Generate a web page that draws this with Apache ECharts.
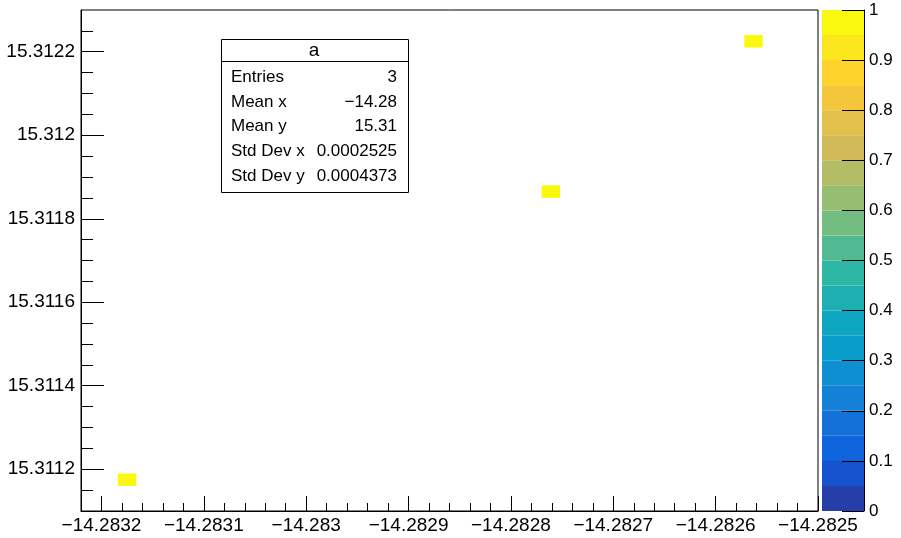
<!DOCTYPE html>
<html><head><meta charset="utf-8">
<script src="https://cdn.jsdelivr.net/npm/echarts@6/dist/echarts.min.js"></script>
<style>html,body{margin:0;padding:0;background:#fff}#c{width:901px;height:538px}</style>
</head><body><div id="c"></div>
<script>
// ---- data ----
const histName = 'a';
const xRange = [-14.28322, -14.2825];
const yRange = [15.3111, 15.3123];
const nBinsX = 40;
const nBinsY = 40;
// lower edges of filled bins and their contents
const binX = [-14.283184, -14.28277, -14.282572];
const binY = [15.31116, 15.31185, 15.31221];
const binContent = [1, 1, 1];
const xMajorTicks = [-14.2832, -14.2831, -14.283, -14.2829, -14.2828, -14.2827, -14.2826, -14.2825];
const yMajorTicks = [15.3112, 15.3114, 15.3116, 15.3118, 15.312, 15.3122];
const zRange = [0, 1];
const zTicks = [0, 0.1, 0.2, 0.3, 0.4, 0.5, 0.6, 0.7, 0.8, 0.9, 1];
const zLevels = [0, 0.05, 0.1, 0.15, 0.2, 0.25, 0.3, 0.35, 0.4, 0.45, 0.5, 0.55, 0.6, 0.65, 0.7, 0.75, 0.8, 0.85, 0.9, 0.95, 1];
const statsLabels = ['Entries', 'Mean x', 'Mean y', 'Std Dev x', 'Std Dev y'];
const statsValues = ['3', '\u221214.28', '15.31', '0.0002525', '0.0004373'];

// ---- style helpers ----
const FONT = '"Liberation Sans", Arial, Helvetica, sans-serif';
// ROOT kBird palette
const birdStops = [0, 0.125, 0.25, 0.375, 0.5, 0.625, 0.75, 0.875, 1];
const birdR = [0.2082, 0.0592, 0.0780, 0.0232, 0.1802, 0.5301, 0.8186, 0.9956, 0.9764];
const birdG = [0.1664, 0.3599, 0.5041, 0.6419, 0.7178, 0.7492, 0.7328, 0.7862, 0.9832];
const birdB = [0.5293, 0.8684, 0.8385, 0.7914, 0.6425, 0.4662, 0.3499, 0.1968, 0.0539];
const NCOL = 255;
const palette = [];
for (let g = 1; g < birdStops.length; g++) {
  const n = Math.floor(birdStops[g] * NCOL) - Math.floor(birdStops[g - 1] * NCOL);
  for (let c = 0; c < n; c++) {
    const r = birdR[g - 1] + c * (birdR[g] - birdR[g - 1]) / n;
    const gg = birdG[g - 1] + c * (birdG[g] - birdG[g - 1]) / n;
    const b = birdB[g - 1] + c * (birdB[g] - birdB[g - 1]) / n;
    palette.push('rgb(' + Math.round(r * 255) + ',' + Math.round(gg * 255) + ',' + Math.round(b * 255) + ')');
  }
}
const nBands = zLevels.length - 1;
const bandColors = [];
for (let i = 0; i < nBands; i++) {
  bandColors.push(palette[Math.min(palette.length - 1, Math.floor((i + 0.99) * palette.length / nBands))]);
}
function bandOf(v) {
  let b = Math.floor(0.01 + (v - zRange[0]) * nBands / (zRange[1] - zRange[0]));
  return Math.max(0, Math.min(nBands - 1, b));
}
function minorBetween(min, max, step) {
  const out = [];
  const k0 = Math.ceil(min / step - 1e-6), k1 = Math.floor(max / step + 1e-6);
  for (let k = k0; k <= k1; k++) out.push(+(k * step).toFixed(8));
  return out;
}
const xMinor = minorBetween(xRange[0], xRange[1], (xMajorTicks[1] - xMajorTicks[0]) / 5);
const yMinor = minorBetween(yRange[0], yRange[1], (yMajorTicks[1] - yMajorTicks[0]) / 4);
const fmt = (d) => (v) => String(parseFloat(v.toFixed(d))).replace('-', '\u2212');

const dx = (xRange[1] - xRange[0]) / nBinsX;
const dy = (yRange[1] - yRange[0]) / nBinsY;
const binData = binX.map((x, i) => [x, binY[i], binContent[i]]);
const bandData = [];
for (let i = 0; i < nBands; i++) bandData.push([zLevels[i], zLevels[i + 1], i]);

const chart = echarts.init(document.getElementById('c'), null, {renderer: 'canvas'});
const black = {color: '#000', width: 1};
chart.setOption({
  animation: false,
  backgroundColor: '#fff',
  grid: [
    {left: 81, top: 10, width: 737, height: 501, show: true, borderColor: '#000', borderWidth: 1, backgroundColor: 'transparent'},
    {left: 822, top: 10, width: 42, height: 501, show: false}
  ],
  xAxis: [
    {type: 'value', gridIndex: 0, min: xRange[0], max: xRange[1], position: 'bottom', z: 10,
      axisLine: {show: true, onZero: false, lineStyle: black},
      axisTick: {show: true, inside: true, length: 15, customValues: xMajorTicks, lineStyle: black},
      axisLabel: {customValues: xMajorTicks, formatter: fmt(4), color: '#000', fontFamily: FONT, fontSize: 19, margin: 5},
      splitLine: {show: false}},
    {type: 'value', gridIndex: 0, min: xRange[0], max: xRange[1], position: 'bottom', z: 10,
      axisLine: {show: false, onZero: false},
      axisTick: {show: true, inside: true, length: 8, customValues: xMinor, lineStyle: black},
      axisLabel: {show: false}, splitLine: {show: false}},
    {type: 'value', gridIndex: 1, min: 0, max: 1, show: false, axisLine: {onZero: false}}
  ],
  yAxis: [
    {type: 'value', gridIndex: 0, min: yRange[0], max: yRange[1], position: 'left', z: 10,
      axisLine: {show: true, onZero: false, lineStyle: black},
      axisTick: {show: true, inside: true, length: 23, customValues: yMajorTicks, lineStyle: black},
      axisLabel: {customValues: yMajorTicks, formatter: fmt(5), color: '#000', fontFamily: FONT, fontSize: 19, margin: 6},
      splitLine: {show: false}},
    {type: 'value', gridIndex: 0, min: yRange[0], max: yRange[1], position: 'left', z: 10,
      axisLine: {show: false, onZero: false},
      axisTick: {show: true, inside: true, length: 12, customValues: yMinor, lineStyle: black},
      axisLabel: {show: false}, splitLine: {show: false}},
    {type: 'value', gridIndex: 1, min: zRange[0], max: zRange[1], position: 'right', z: 10,
      axisLine: {show: true, onZero: false, lineStyle: black},
      axisTick: {show: true, inside: true, length: 22, customValues: zTicks, lineStyle: black},
      axisLabel: {customValues: zTicks, formatter: fmt(2), color: '#000', fontFamily: FONT, fontSize: 17, margin: 5},
      splitLine: {show: false}}
  ],
  series: [
    {type: 'custom', name: histName, xAxisIndex: 0, yAxisIndex: 0, z: 2, clip: true,
      data: binData,
      renderItem: function (params, api) {
        const x0 = api.value(0), y0 = api.value(1), v = api.value(2);
        const p1 = api.coord([x0, y0]);
        const p2 = api.coord([x0 + dx, y0 + dy]);
        return {type: 'rect', shape: {x: p1[0], y: p2[1], width: p2[0] - p1[0], height: p1[1] - p2[1]},
          style: {fill: bandColors[bandOf(v)]}};
      }},
    {type: 'custom', xAxisIndex: 2, yAxisIndex: 2, z: 2,
      data: bandData,
      renderItem: function (params, api) {
        const lo = api.value(0), hi = api.value(1), i = api.value(2);
        const p1 = api.coord([0, lo]);
        const p2 = api.coord([1, hi]);
        return {type: 'rect', shape: {x: p1[0], y: p2[1], width: p2[0] - p1[0], height: p1[1] - p2[1]},
          style: {fill: bandColors[i]}};
      }}
  ],
  graphic: [
    {type: 'rect', z: 100, shape: {x: 221.5, y: 39.5, width: 187, height: 153},
      style: {fill: '#fff', stroke: '#000', lineWidth: 1}},
    {type: 'line', z: 101, shape: {x1: 221.5, y1: 61.5, x2: 408.5, y2: 61.5}, style: {stroke: '#000', lineWidth: 1}},
    {type: 'text', z: 101, x: 314, y: 51, style: {text: histName, font: '19px ' + FONT, fill: '#000', align: 'center', verticalAlign: 'middle'}}
  ].concat(statsLabels.map((t, i) => ({type: 'text', z: 101, x: 231, y: 77.5 + i * 24.6,
      style: {text: t, font: '17px ' + FONT, fill: '#000', align: 'left', verticalAlign: 'middle'}})))
   .concat(statsValues.map((t, i) => ({type: 'text', z: 101, x: 397, y: 77.5 + i * 24.6,
      style: {text: t, font: '17px ' + FONT, fill: '#000', align: 'right', verticalAlign: 'middle'}})))
});
</script>
</body></html>
